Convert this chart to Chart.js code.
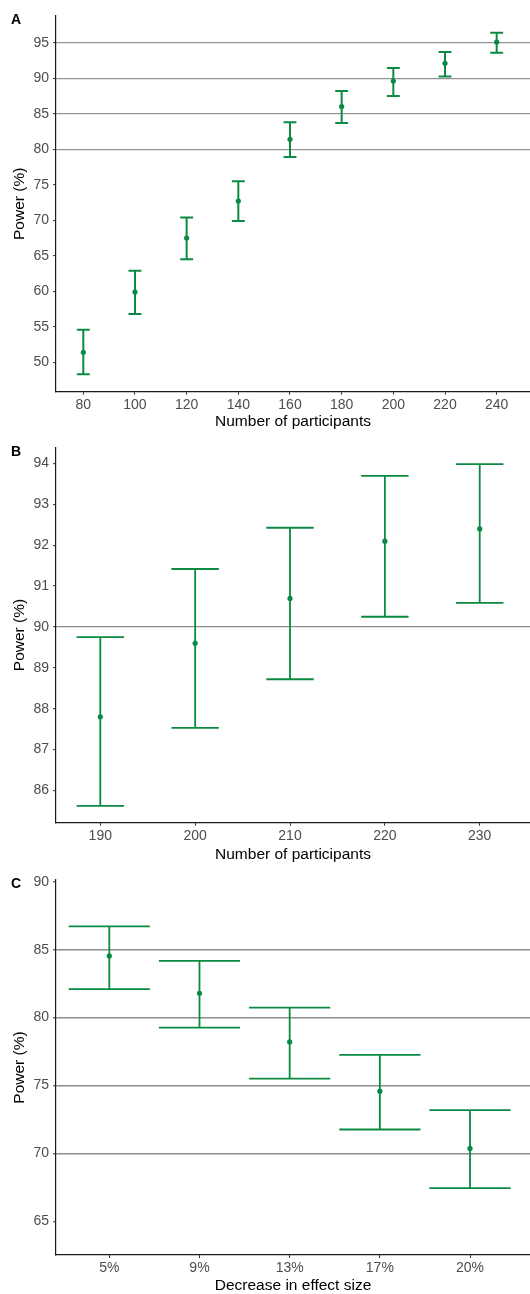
<!DOCTYPE html>
<html>
<head>
<meta charset="utf-8">
<script src="https://cdn.jsdelivr.net/npm/chart.js@4/dist/chart.umd.min.js"></script>
<style>
  html, body { margin: 0; padding: 0; background: #ffffff; }
  #wrap { position: relative; width: 530px; height: 1294px; overflow: hidden; }
  canvas { display: block; position: absolute; left: 0; }
  .lbl { position: absolute; left: 11px; font: bold 14px "Liberation Sans", Arial, sans-serif; line-height: 14px; color: #000; }
</style>
</head>
<body>
<div id="wrap">
  <canvas id="cA" width="530" height="432" style="top:0px"></canvas>
  <canvas id="cB" width="530" height="432" style="top:432px"></canvas>
  <canvas id="cC" width="530" height="430" style="top:864px"></canvas>
  <div class="lbl" style="top:11.8px">A</div>
  <div class="lbl" style="top:444.1px">B</div>
  <div class="lbl" style="top:875.6px">C</div>
</div>
<script>
// ---- Panel A data ----
const aParticipants = [80, 100, 120, 140, 160, 180, 200, 220, 240];
const aPower = [51.4, 59.9, 67.5, 72.7, 81.4, 86.0, 89.6, 92.1, 95.1];
const aLower = [48.3, 56.8, 64.5, 69.9, 78.9, 83.7, 87.5, 90.25, 93.6];
const aUpper = [54.6, 62.9, 70.4, 75.5, 83.8, 88.2, 91.45, 93.7, 96.4];
const aYTicks = [50, 55, 60, 65, 70, 75, 80, 85, 90, 95];
const aXTicks = [80, 100, 120, 140, 160, 180, 200, 220, 240];
const aRefLines = [80, 85, 90, 95];

// ---- Panel B data ----
const bParticipants = [190, 200, 210, 220, 230];
const bPower = [87.8, 89.6, 90.7, 92.1, 92.4];
const bLower = [85.62, 87.53, 88.72, 90.25, 90.59];
const bUpper = [89.75, 91.42, 92.43, 93.7, 93.99];
const bYTicks = [86, 87, 88, 89, 90, 91, 92, 93, 94];
const bXTicks = [190, 200, 210, 220, 230];
const bRefLines = [90];

// ---- Panel C data ----
const cCategories = ['5%', '9%', '13%', '17%', '20%'];
const cPower = [84.54, 81.79, 78.21, 74.58, 70.37];
const cLower = [82.1, 79.26, 75.51, 71.76, 67.45];
const cUpper = [86.71, 84.17, 80.74, 77.25, 73.18];
const cYTicks = [65, 70, 75, 80, 85, 90];
const cRefLines = [70, 75, 80, 85];

const GREEN = '#0a8a42';
const FONT = '"Liberation Sans", Arial, sans-serif';

function makePanel(id, cfg) {
  const xs = cfg.xs;
  const whiskers = [];
  const caps = [];
  const points = [];
  xs.forEach((x, i) => {
    whiskers.push({x: x, y: cfg.lo[i]}, {x: x, y: cfg.hi[i]}, {x: x, y: null});
    caps.push({x: x - cfg.cap, y: cfg.hi[i]}, {x: x + cfg.cap, y: cfg.hi[i]}, {x: x, y: null});
    caps.push({x: x - cfg.cap, y: cfg.lo[i]}, {x: x + cfg.cap, y: cfg.lo[i]}, {x: x, y: null});
    points.push({x: x, y: cfg.mean[i]});
  });
  const H = cfg.H;
  return new Chart(document.getElementById(id), {
    type: 'line',
    data: {
      datasets: [
        {data: whiskers, borderColor: GREEN, borderWidth: cfg.lw, pointRadius: 0, spanGaps: false, fill: false},
        {data: caps, borderColor: GREEN, borderWidth: cfg.lw, pointRadius: 0, spanGaps: false, fill: false},
        {data: points, showLine: false, pointRadius: 2.6, pointBackgroundColor: GREEN, pointBorderColor: GREEN, pointBorderWidth: 0}
      ]
    },
    options: {
      responsive: false,
      animation: false,
      devicePixelRatio: 1,
      layout: {autoPadding: false, padding: {top: cfg.top, left: 0, right: 0, bottom: 0}},
      plugins: {legend: {display: false}, tooltip: {enabled: false}},
      scales: {
        x: {
          type: 'linear',
          min: cfg.xmin, max: cfg.xmax,
          afterBuildTicks: (s) => { s.ticks = cfg.xTicks.map(v => ({value: v})); },
          afterFit: (s) => { s.height = H - cfg.bottom; s.paddingLeft = 0; s.paddingRight = 0; s.paddingTop = 0; s.paddingBottom = 0; },
          grid: {display: true, drawOnChartArea: false, drawTicks: true, tickLength: 3, tickColor: '#333333', tickWidth: 1},
          border: {display: true, color: '#1a1a1a', width: 1.2},
          ticks: {
            color: '#4d4d4d', padding: 2, maxRotation: 0, autoSkip: false,
            font: {family: FONT, size: 14, lineHeight: 1.2},
            callback: cfg.xLabel
          },
          title: {display: true, text: cfg.xTitle, color: '#000000', font: {family: FONT, size: 15.5, lineHeight: 1}, padding: {top: 0, bottom: cfg.titlePad}}
        },
        y: {
          type: 'linear',
          min: cfg.ymin, max: cfg.ymax,
          afterBuildTicks: (s) => { s.ticks = cfg.yTicks.map(v => ({value: v})); },
          afterFit: (s) => { s.width = 56; s.paddingLeft = 0; s.paddingRight = 0; s.paddingTop = 0; s.paddingBottom = 0; },
          grid: {
            display: true, drawOnChartArea: true, drawTicks: true, tickLength: 3, tickColor: '#333333', tickWidth: 1,
            color: (c) => (c.tick && cfg.ref.includes(c.tick.value)) ? cfg.refColor : 'rgba(0,0,0,0)',
            lineWidth: cfg.refWidth
          },
          border: {display: true, color: '#1a1a1a', width: 1.2},
          ticks: {color: '#4d4d4d', padding: 4, font: {family: FONT, size: 14, lineHeight: 1.2}},
          title: {display: true, text: 'Power (%)', color: '#000000', font: {family: FONT, size: 15.5, lineHeight: 1}, padding: {top: 12.25, bottom: 0}}
        }
      }
    }
  });
}

makePanel('cA', {
  xs: aParticipants, mean: aPower, lo: aLower, hi: aUpper, cap: 2.5, lw: 2,
  H: 432, top: 16, bottom: 391.7,
  xmin: 69.43, xmax: 252.9, ymin: 45.86, ymax: 98.76,
  xTicks: aXTicks, yTicks: aYTicks, ref: aRefLines, refColor: '#949494', refWidth: 1.2,
  xLabel: (v) => String(v), xTitle: 'Number of participants', titlePad: 2.5
});

makePanel('cB', {
  xs: bParticipants, mean: bPower, lo: bLower, hi: bUpper, cap: 2.5, lw: 1.8,
  H: 432, top: 15.3, bottom: 390.7,
  xmin: 185.33, xmax: 235.3, ymin: 85.207, ymax: 94.4,
  xTicks: bXTicks, yTicks: bYTicks, ref: bRefLines, refColor: '#8c8c8c', refWidth: 1.3,
  xLabel: (v) => String(v), xTitle: 'Number of participants', titlePad: 1.25
});

makePanel('cC', {
  xs: cCategories.map((c, i) => i), mean: cPower, lo: cLower, hi: cUpper, cap: 0.45, lw: 1.8,
  H: 430, top: 16, bottom: 391,
  xmin: -0.591, xmax: 4.665, ymin: 62.52, ymax: 90.13,
  xTicks: cCategories.map((c, i) => i), yTicks: cYTicks, ref: cRefLines, refColor: '#8c8c8c', refWidth: 1.6,
  xLabel: (v) => cCategories[v], xTitle: 'Decrease in effect size', titlePad: 0.25
});
</script>
</body>
</html>
